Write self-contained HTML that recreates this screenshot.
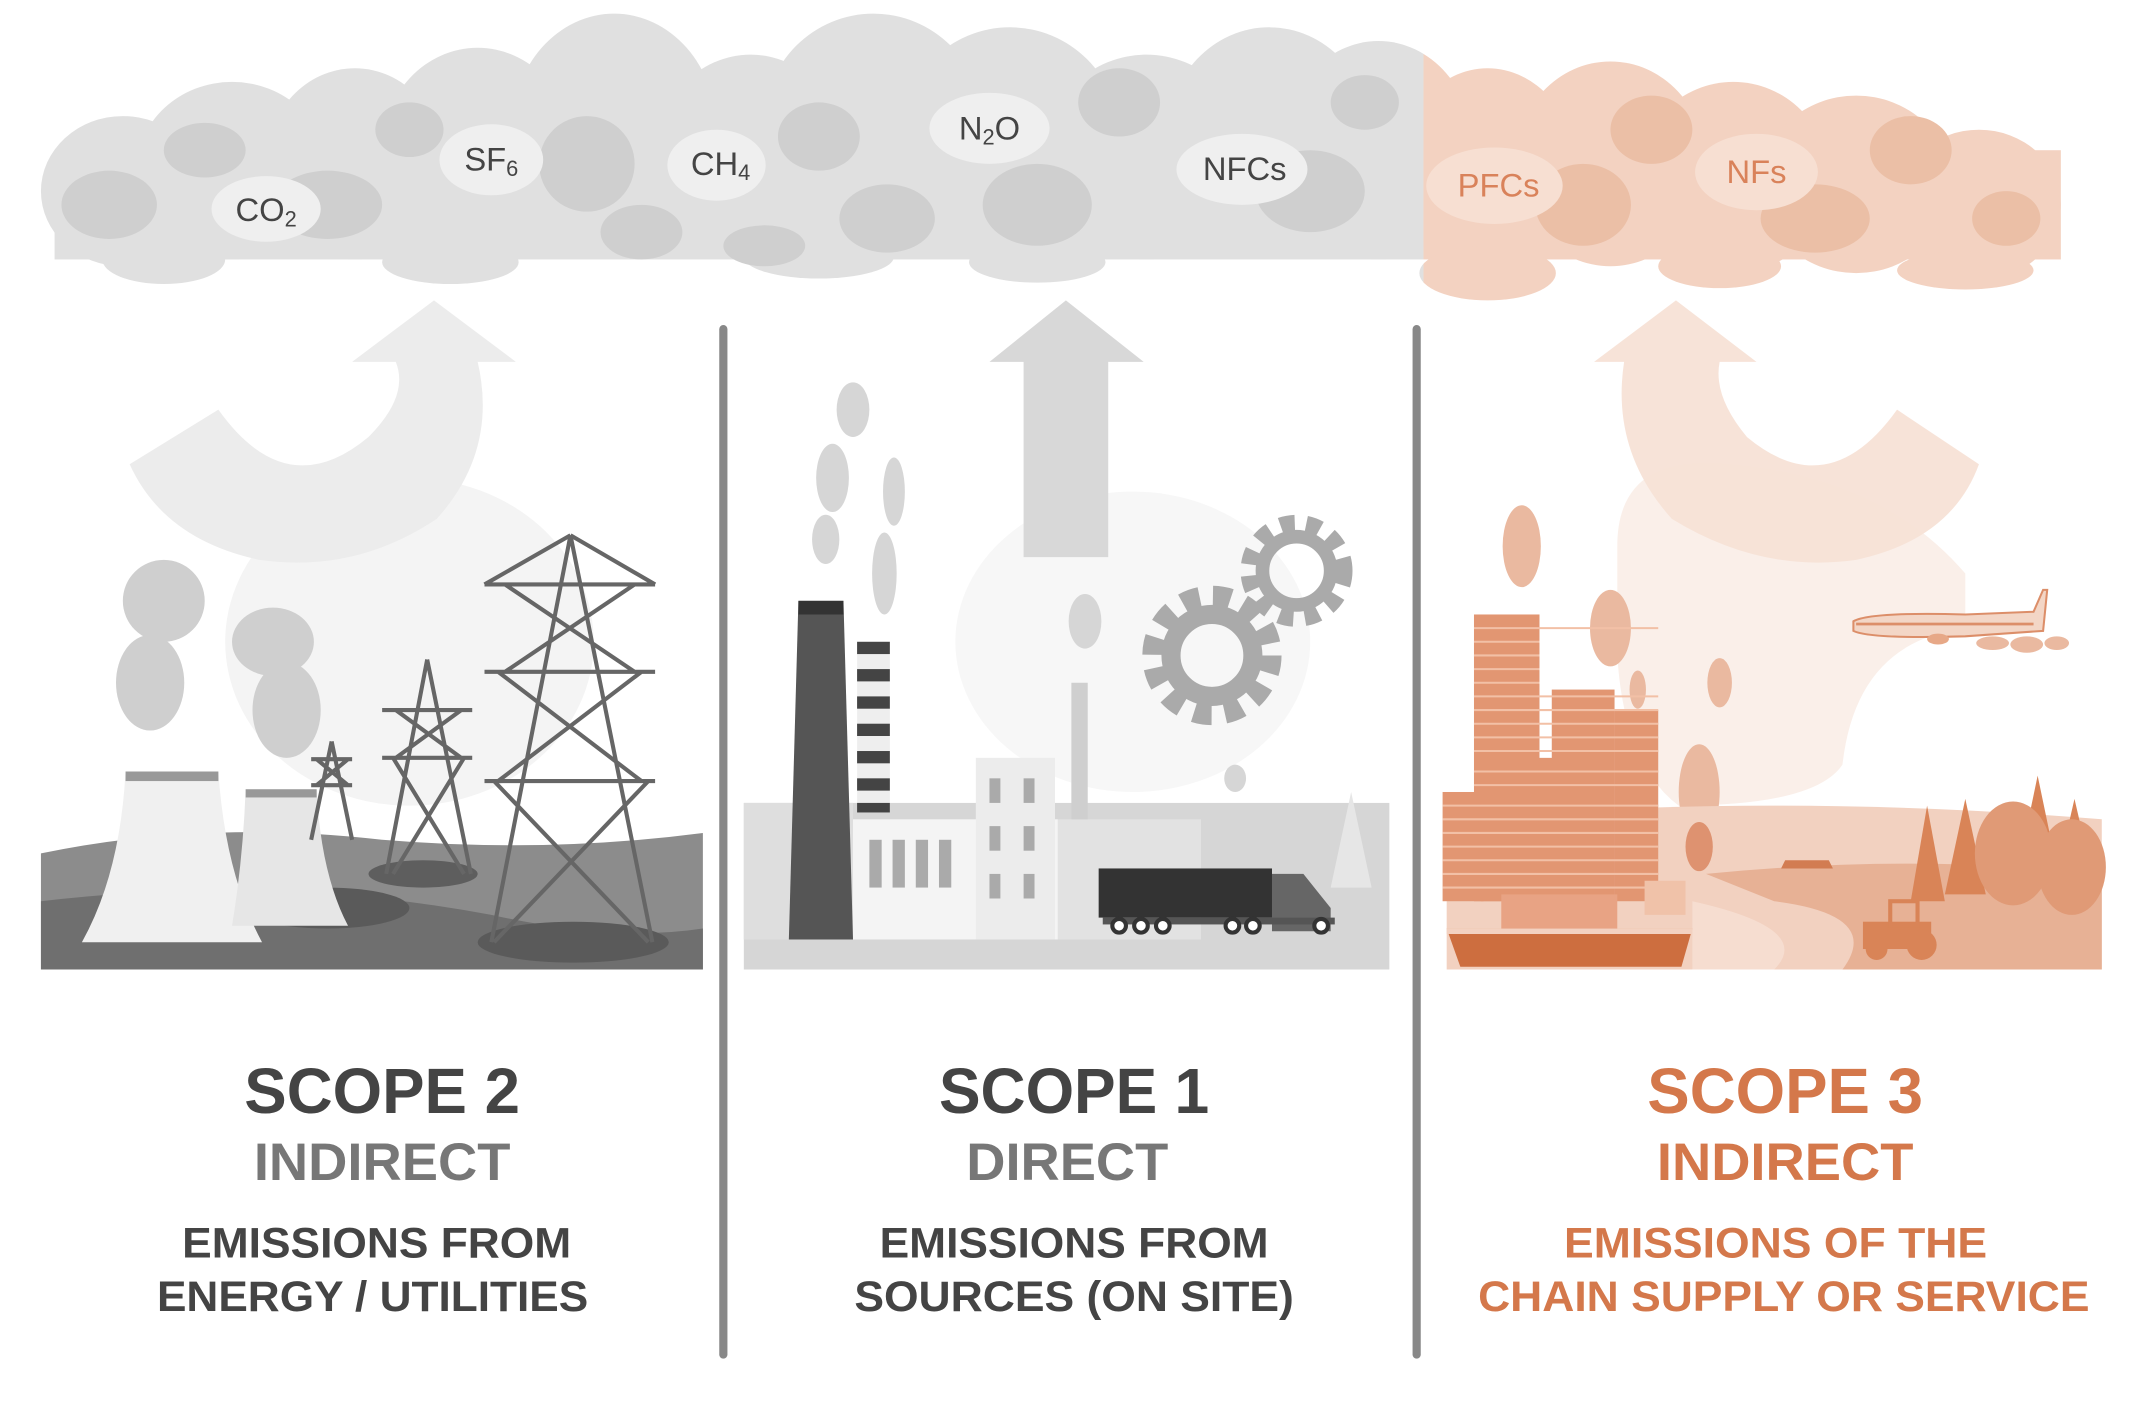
<!DOCTYPE html>
<html><head><meta charset="utf-8"><style>
html,body{margin:0;padding:0;background:#fff}
svg{display:block}
text{font-family:"Liberation Sans",sans-serif;font-weight:bold;text-anchor:middle}
</style></head><body>
<svg width="2140" height="1401" viewBox="0 0 1568 1026" preserveAspectRatio="none" xmlns="http://www.w3.org/2000/svg">
<defs>
<clipPath id="gc"><rect x="0" y="0" width="1043" height="230"/></clipPath>
<clipPath id="oc"><rect x="1043" y="0" width="520" height="230"/></clipPath>
<g id="cl">
<ellipse cx="90" cy="140" rx="60" ry="55"/><ellipse cx="170" cy="125" rx="70" ry="65"/><ellipse cx="260" cy="120" rx="65" ry="70"/>
<ellipse cx="350" cy="110" rx="70" ry="75"/><ellipse cx="450" cy="95" rx="75" ry="85"/><ellipse cx="550" cy="115" rx="70" ry="75"/>
<ellipse cx="640" cy="90" rx="80" ry="80"/><ellipse cx="740" cy="100" rx="80" ry="80"/><ellipse cx="840" cy="115" rx="75" ry="75"/>
<ellipse cx="930" cy="100" rx="75" ry="80"/><ellipse cx="1010" cy="110" rx="70" ry="80"/><ellipse cx="1090" cy="125" rx="65" ry="75"/>
<ellipse cx="1180" cy="120" rx="70" ry="75"/><ellipse cx="1270" cy="130" rx="70" ry="70"/><ellipse cx="1360" cy="135" rx="70" ry="65"/>
<ellipse cx="1450" cy="150" rx="60" ry="55"/><rect x="40" y="110" width="1470" height="80"/>
<ellipse cx="120" cy="190" rx="45" ry="18"/><ellipse cx="330" cy="192" rx="50" ry="16"/><ellipse cx="600" cy="188" rx="55" ry="16"/>
<ellipse cx="760" cy="192" rx="50" ry="15"/><ellipse cx="1090" cy="200" rx="50" ry="20"/><ellipse cx="1260" cy="195" rx="45" ry="16"/><ellipse cx="1440" cy="198" rx="50" ry="14"/>
</g>
<g id="bl">
<ellipse cx="80" cy="150" rx="35" ry="25"/><ellipse cx="150" cy="110" rx="30" ry="20"/><ellipse cx="240" cy="150" rx="40" ry="25"/>
<ellipse cx="300" cy="95" rx="25" ry="20"/><ellipse cx="430" cy="120" rx="35" ry="35"/><ellipse cx="470" cy="170" rx="30" ry="20"/>
<ellipse cx="600" cy="100" rx="30" ry="25"/><ellipse cx="650" cy="160" rx="35" ry="25"/><ellipse cx="760" cy="150" rx="40" ry="30"/>
<ellipse cx="820" cy="75" rx="30" ry="25"/><ellipse cx="960" cy="140" rx="40" ry="30"/><ellipse cx="1000" cy="75" rx="25" ry="20"/>
<ellipse cx="1160" cy="150" rx="35" ry="30"/><ellipse cx="1210" cy="95" rx="30" ry="25"/><ellipse cx="1330" cy="160" rx="40" ry="25"/>
<ellipse cx="1400" cy="110" rx="30" ry="25"/><ellipse cx="1470" cy="160" rx="25" ry="20"/><ellipse cx="560" cy="180" rx="30" ry="15"/>
</g>
</defs>
<g clip-path="url(#gc)"><use href="#cl" fill="#e0e0e0"/><use href="#bl" fill="#cfcfcf"/></g>
<g clip-path="url(#oc)"><use href="#cl" fill="#f3d2c1"/><use href="#bl" fill="#ebbfa6"/></g>
<g fill="#efefef">
<ellipse cx="195" cy="153" rx="40" ry="24"/><ellipse cx="360" cy="117" rx="38" ry="26"/><ellipse cx="525" cy="121" rx="36" ry="26"/>
<ellipse cx="725" cy="94" rx="44" ry="26"/><ellipse cx="910" cy="124" rx="48" ry="26"/></g>
<g fill="#f7dfd2"><ellipse cx="1095" cy="136" rx="50" ry="28"/><ellipse cx="1287" cy="126" rx="45" ry="28"/></g>
<g font-size="24" fill="#444">
<text x="195" y="162" style="font-weight:normal">CO<tspan font-size="16" dy="4">2</tspan></text>
<text x="360" y="125" style="font-weight:normal">SF<tspan font-size="16" dy="4">6</tspan></text>
<text x="528" y="128" style="font-weight:normal">CH<tspan font-size="16" dy="4">4</tspan></text>
<text x="725" y="102" style="font-weight:normal">N<tspan font-size="16" dy="4">2</tspan><tspan dy="-4">O</tspan></text>
<text x="912" y="132" style="font-weight:normal">NFCs</text>
<text x="1098" y="144" fill="#d9825a" style="font-weight:normal">PFCs</text>
<text x="1287" y="134" fill="#d9825a" style="font-weight:normal">NFs</text>
</g>
<ellipse cx="300" cy="470" rx="135" ry="120" fill="#f4f4f4"/>
<ellipse cx="830" cy="470" rx="130" ry="110" fill="#f7f7f7"/>
<path d="M1185 400 Q1185 330 1270 340 Q1380 350 1440 420 L1440 460 Q1360 470 1350 560 Q1330 590 1230 590 Q1190 560 1185 480Z" fill="#faefe9"/>
<path d="M95 340 L160 300 Q210 370 270 320 Q300 290 290 265 L258 265 L318 220 L378 265 L350 265 Q365 330 320 380 Q260 420 190 410 Q120 395 95 340Z" fill="#ececec"/>
<path d="M750 408 L750 265 L725 265 L781 220 L838 265 L812 265 L812 408Z" fill="#d8d8d8"/>
<path d="M1450 340 L1390 300 Q1340 370 1280 320 Q1255 290 1260 265 L1287 265 L1228 220 L1168 265 L1190 265 Q1180 330 1225 380 Q1290 420 1360 410 Q1430 395 1450 340Z" fill="#f7e1d6" opacity="0.95"/>
<rect x="527" y="238" width="6" height="757" rx="3" fill="#888"/>
<rect x="1035" y="238" width="6" height="757" rx="3" fill="#888"/>
<g>
<g fill="#cfcfcf"><ellipse cx="120" cy="440" rx="30" ry="30"/><ellipse cx="110" cy="500" rx="25" ry="35"/><ellipse cx="200" cy="470" rx="30" ry="25"/><ellipse cx="210" cy="520" rx="25" ry="35"/></g>
<path d="M30 625 Q150 600 280 615 Q400 625 515 610 L515 710 L30 710Z" fill="#8c8c8c"/>
<path d="M30 660 Q200 640 360 670 Q450 690 515 680 L515 710 L30 710Z" fill="#6f6f6f"/>
<ellipse cx="420" cy="690" rx="70" ry="15" fill="#5a5a5a"/><ellipse cx="310" cy="640" rx="40" ry="10" fill="#5e5e5e"/>
<ellipse cx="240" cy="665" rx="60" ry="15" fill="#5a5a5a"/>
<path d="M92 565 L160 565 Q165 640 192 690 L60 690 Q88 640 92 565Z" fill="#f0f0f0"/>
<rect x="92" y="565" width="68" height="7" fill="#999"/>
<path d="M180 578 L232 578 Q235 640 255 678 L170 678 Q178 630 180 578Z" fill="#e6e6e6"/>
<rect x="180" y="578" width="52" height="6" fill="#999"/>
<g stroke="#666" stroke-width="3" fill="none">
<path d="M418 392 L360 690 M418 392 L478 690 M355 428 L480 428 M355 492 L480 492 M355 572 L480 572 M418 392 L355 428 M418 392 L480 428 M370 428 L465 492 M465 428 L370 492 M365 492 L470 572 M470 492 L365 572 M362 572 L475 690 M475 572 L362 690"/>
<path d="M313 483 L283 640 M313 483 L345 640 M280 520 L346 520 M280 555 L346 555 M290 520 L338 555 M338 520 L290 555 M288 555 L340 640 M340 555 L288 640"/>
<path d="M243 543 L228 615 M243 543 L258 615 M228 556 L258 556 M228 575 L258 575 M232 556 L255 575 M255 556 L232 575"/>
</g>
</g>
<g>
<g fill="#d6d6d6"><ellipse cx="625" cy="300" rx="12" ry="20"/><ellipse cx="610" cy="350" rx="12" ry="25"/><ellipse cx="605" cy="395" rx="10" ry="18"/><ellipse cx="655" cy="360" rx="8" ry="25"/><ellipse cx="648" cy="420" rx="9" ry="30"/><ellipse cx="795" cy="455" rx="12" ry="20"/><ellipse cx="905" cy="570" rx="8" ry="10"/><ellipse cx="915" cy="600" rx="8" ry="10"/></g>
<rect x="545" y="588" width="473" height="122" fill="#d6d6d6"/>
<rect x="545" y="588" width="80" height="100" fill="#dedede"/>
<rect x="773" y="600" width="107" height="88" fill="#e2e2e2"/>
<path d="M585 440 L618 440 L625 688 L578 688Z" fill="#555"/>
<rect x="585" y="440" width="33" height="10" fill="#333"/>
<rect x="628" y="470" width="24" height="125" fill="#eee"/>
<g fill="#444"><rect x="628" y="470" width="24" height="9"/><rect x="628" y="490" width="24" height="9"/><rect x="628" y="510" width="24" height="9"/><rect x="628" y="530" width="24" height="9"/><rect x="628" y="550" width="24" height="9"/><rect x="628" y="570" width="24" height="9"/><rect x="628" y="588" width="24" height="7"/></g>
<rect x="625" y="600" width="150" height="88" fill="#f4f4f4"/>
<rect x="715" y="555" width="58" height="133" fill="#ececec"/>
<g fill="#aaa"><rect x="637" y="615" width="9" height="35"/><rect x="654" y="615" width="9" height="35"/><rect x="671" y="615" width="9" height="35"/><rect x="688" y="615" width="9" height="35"/>
<rect x="725" y="570" width="8" height="18"/><rect x="750" y="570" width="8" height="18"/><rect x="725" y="605" width="8" height="18"/><rect x="750" y="605" width="8" height="18"/><rect x="725" y="640" width="8" height="18"/><rect x="750" y="640" width="8" height="18"/></g>
<rect x="785" y="500" width="12" height="100" fill="#cfcfcf"/>
<circle cx="888" cy="480" r="40" fill="none" stroke="#aaa" stroke-width="22" stroke-dasharray="12 9"/>
<circle cx="888" cy="480" r="30" fill="none" stroke="#aaa" stroke-width="14"/>
<circle cx="950" cy="418" r="33" fill="none" stroke="#aaa" stroke-width="16" stroke-dasharray="10 8"/>
<circle cx="950" cy="418" r="25" fill="none" stroke="#aaa" stroke-width="10"/>
<path d="M990 580 L975 650 L1005 650Z" fill="#e6e6e6"/>
<rect x="805" y="636" width="127" height="36" fill="#333"/>
<path d="M932 640 L955 640 L975 665 L975 682 L932 682Z" fill="#666"/>
<rect x="808" y="672" width="170" height="5" fill="#555"/>
<g fill="#fff" stroke="#333" stroke-width="3"><circle cx="820" cy="678" r="5"/><circle cx="836" cy="678" r="5"/><circle cx="852" cy="678" r="5"/><circle cx="903" cy="678" r="5"/><circle cx="918" cy="678" r="5"/><circle cx="968" cy="678" r="5"/></g>
</g>
<g>
<g fill="#eab9a0"><ellipse cx="1115" cy="400" rx="14" ry="30"/><ellipse cx="1180" cy="460" rx="15" ry="28"/><ellipse cx="1260" cy="500" rx="9" ry="18"/><ellipse cx="1245" cy="580" rx="15" ry="35"/><ellipse cx="1200" cy="505" rx="6" ry="14"/></g>
<path d="M1060 600 Q1300 580 1540 600 L1540 710 L1060 710Z" fill="#f2d1c0"/>
<path d="M1250 640 Q1400 625 1540 640 L1540 710 L1350 710 Q1380 670 1300 660Z" fill="#e7b195"/>
<path d="M1240 660 Q1330 680 1300 710 L1240 710Z" fill="#f6ddd0"/>
<g fill="#e29672"><rect x="1080" y="450" width="48" height="210"/><rect x="1137" y="505" width="46" height="155"/><rect x="1183" y="520" width="32" height="140"/><rect x="1057" y="580" width="30" height="80"/><rect x="1085" y="555" width="60" height="105"/></g>
<g stroke="#f2c0a6" stroke-width="1.5"><path d="M1057 590H1215M1057 600H1215M1057 610H1215M1057 620H1215M1057 630H1215M1057 640H1215M1057 650H1215M1080 460H1215M1080 470H1128M1080 480H1128M1080 490H1128M1080 500H1128M1080 510H1215M1080 520H1215M1080 530H1215M1080 540H1215M1080 550H1215M1080 565H1215M1080 575H1215"/></g>
<rect x="1100" y="655" width="85" height="25" fill="#e8a384"/>
<rect x="1205" y="645" width="30" height="25" fill="#f0c2a9"/>
<path d="M1060 680 L1240 680 L1232 708 L1070 708Z" fill="#cd6e3f"/>
<rect x="1060" y="680" width="180" height="4" fill="#f3d1c0"/>
<ellipse cx="1245" cy="620" rx="10" ry="18" fill="#de9270"/>
<path d="M1308 630 L1340 630 L1343 636 L1305 636Z" fill="#d27c52"/>
<rect x="1365" y="675" width="50" height="20" fill="#d98457"/><rect x="1385" y="660" width="20" height="18" fill="none" stroke="#d98457" stroke-width="3"/>
<circle cx="1375" cy="695" r="8" fill="#d98457"/><circle cx="1408" cy="692" r="11" fill="#d98457"/>
<g fill="#d98457"><path d="M1412 590 L1400 660 L1425 660Z"/><path d="M1440 585 L1425 655 L1455 655Z"/><path d="M1493 568 L1478 640 L1508 640Z"/><path d="M1520 585 L1505 650 L1535 650Z"/></g>
<g fill="#e09a76"><ellipse cx="1475" cy="625" rx="28" ry="38"/><ellipse cx="1518" cy="635" rx="25" ry="35"/></g>
<path d="M1358 455 Q1370 448 1440 450 L1490 448 L1497 432 L1500 432 L1497 462 L1440 466 Q1370 468 1358 462Z" fill="#f3d6c6" stroke="#dc8e69" stroke-width="1.5"/>
<rect x="1360" y="456" width="130" height="2" fill="#dc8e69"/>
<ellipse cx="1420" cy="468" rx="8" ry="4" fill="#e7a887"/>
<g fill="#eab9a0"><ellipse cx="1460" cy="471" rx="12" ry="5"/><ellipse cx="1485" cy="472" rx="12" ry="6"/><ellipse cx="1507" cy="471" rx="9" ry="5"/></g>
</g>
<g lengthAdjust="spacingAndGlyphs">
<text x="280" y="815" font-size="47" fill="#444" textLength="202" lengthAdjust="spacingAndGlyphs">SCOPE 2</text>
<text x="280" y="864" font-size="39" fill="#777" textLength="188" lengthAdjust="spacingAndGlyphs">INDIRECT</text>
<text x="276" y="921" font-size="31" fill="#444" textLength="285" lengthAdjust="spacingAndGlyphs">EMISSIONS FROM</text>
<text x="273" y="960" font-size="31" fill="#444" textLength="316" lengthAdjust="spacingAndGlyphs">ENERGY / UTILITIES</text>
<text x="787" y="815" font-size="47" fill="#444" textLength="198" lengthAdjust="spacingAndGlyphs">SCOPE 1</text>
<text x="782" y="864" font-size="39" fill="#777" textLength="148" lengthAdjust="spacingAndGlyphs">DIRECT</text>
<text x="787" y="921" font-size="31" fill="#444" textLength="285" lengthAdjust="spacingAndGlyphs">EMISSIONS FROM</text>
<text x="787" y="960" font-size="31" fill="#444" textLength="322" lengthAdjust="spacingAndGlyphs">SOURCES (ON SITE)</text>
<text x="1308" y="815" font-size="47" fill="#d4784b" textLength="202" lengthAdjust="spacingAndGlyphs">SCOPE 3</text>
<text x="1308" y="864" font-size="39" fill="#d4784b" textLength="188" lengthAdjust="spacingAndGlyphs">INDIRECT</text>
<text x="1301" y="921" font-size="31" fill="#d4784b" textLength="310" lengthAdjust="spacingAndGlyphs">EMISSIONS OF THE</text>
<text x="1307" y="960" font-size="31" fill="#d4784b" textLength="448" lengthAdjust="spacingAndGlyphs">CHAIN SUPPLY OR SERVICE</text>
</g>
</svg>
</body></html>
